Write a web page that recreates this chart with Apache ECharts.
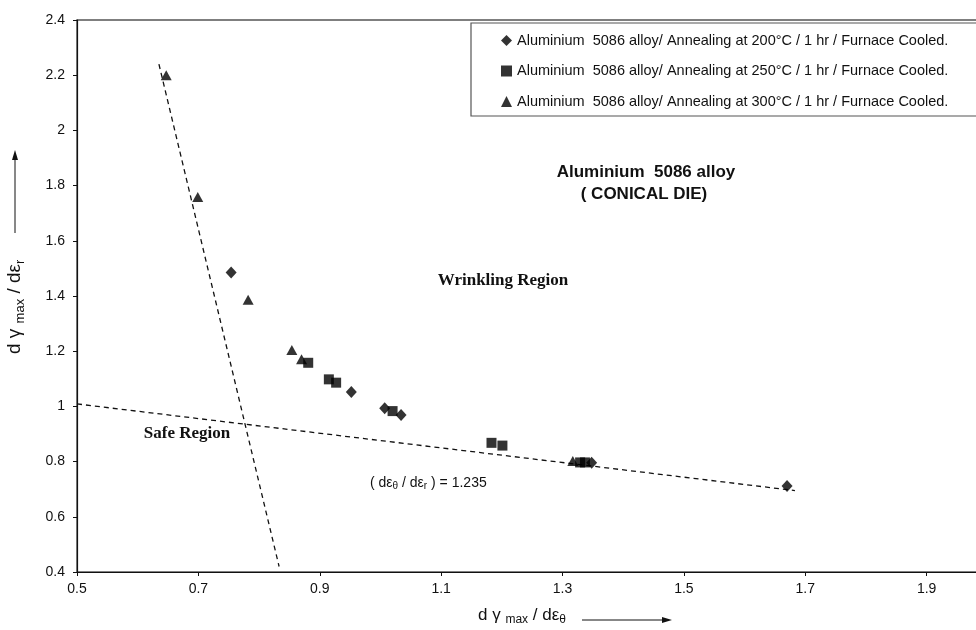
<!DOCTYPE html>
<html>
<head>
<meta charset="utf-8">
<script src="https://cdn.jsdelivr.net/npm/echarts@6/dist/echarts.min.js"></script>
<style>
  html, body { margin: 0; padding: 0; background: #fff; }
  #chart { width: 976px; height: 630px; }
</style>
</head>
<body>
<div id="chart"></div>
<script>
// series: [d gamma_max / d eps_theta, d gamma_max / d eps_r]
const names = [
  'Aluminium  5086 alloy/ Annealing at 200°C / 1 hr / Furnace Cooled.',
  'Aluminium  5086 alloy/ Annealing at 250°C / 1 hr / Furnace Cooled.',
  'Aluminium  5086 alloy/ Annealing at 300°C / 1 hr / Furnace Cooled.'
]
const anneal200 = [[0.754, 1.485], [0.952, 1.052], [1.007, 0.993], [1.034, 0.969], [1.348, 0.796], [1.670, 0.712]]
const anneal250 = [[0.881, 1.158], [0.915, 1.098], [0.927, 1.086], [1.020, 0.983], [1.183, 0.868], [1.201, 0.858], [1.329, 0.797], [1.337, 0.797]]
const anneal300 = [[0.647, 2.2], [0.699, 1.759], [0.782, 1.386], [0.854, 1.204], [0.870, 1.171], [1.317, 0.802]]

// boundary lines (dashed)
const steepLine = [[0.635, 2.24], [0.833, 0.42]]
const flatLine = [[0.5, 1.009], [1.683, 0.695]]

const xMin = 0.5, xMax = 2.1, xStep = 0.2
const yMin = 0.4, yMax = 2.4, yStep = 0.2

const chart = echarts.init(document.getElementById('chart'))

const sans = 'Liberation Sans, Arial, sans-serif'
const serif = 'Liberation Serif, Times New Roman, serif'

const scatter = (name, data, symbol, size) => ({
  name,
  type: 'scatter',
  data,
  symbol,
  symbolSize: size,
  itemStyle: { color: '#000' },
  z: 3
})

const dashed = (data) => ({
  type: 'line',
  data,
  symbol: 'none',
  silent: true,
  lineStyle: { color: '#111', width: 1.3, type: [5, 4] },
  z: 2
})

const option = {
  animation: false,
  backgroundColor: '#fff',
  grid: {
    left: 77,
    top: 20,
    width: 971,
    height: 552,
    outerBoundsMode: 'none',
    containLabel: false,
    show: true,
    borderColor: '#555',
    borderWidth: 1.5
  },
  xAxis: {
    type: 'value',
    min: xMin,
    max: xMax,
    interval: xStep,
    axisLine: { lineStyle: { color: '#111', width: 1.2 } },
    axisTick: { length: 4, lineStyle: { color: '#111' } },
    axisLabel: {
      color: '#111',
      fontFamily: sans,
      fontSize: 14,
      margin: 10,
      formatter: v => String(+v.toFixed(2))
    },
    splitLine: { show: false }
  },
  yAxis: {
    type: 'value',
    min: yMin,
    max: yMax,
    interval: yStep,
    axisLine: { show: true, lineStyle: { color: '#111', width: 1.2 } },
    axisTick: { show: true, length: 4, lineStyle: { color: '#111' } },
    axisLabel: {
      color: '#111',
      fontFamily: sans,
      fontSize: 14,
      margin: 12,
      formatter: v => String(+v.toFixed(2))
    },
    splitLine: { show: false }
  },
  legend: {
    data: names,
    orient: 'vertical',
    left: 496,
    top: 28,
    itemWidth: 11,
    itemHeight: 11,
    itemGap: 15.5,
    textStyle: { color: '#111', fontFamily: sans, fontSize: 14.5 },
    selectedMode: false
  },
  graphic: [
    {
      type: 'rect',
      shape: { x: 471, y: 23, width: 520, height: 93 },
      style: { fill: '#fff', stroke: '#555', lineWidth: 1.2 },
      z: 1
    },
    {
      type: 'text',
      x: 646, y: 172,
      style: { text: 'Aluminium  5086 alloy', font: 'bold 17px ' + sans, fill: '#111', align: 'center', verticalAlign: 'middle' }
    },
    {
      type: 'text',
      x: 644, y: 194,
      style: { text: '( CONICAL DIE)', font: 'bold 17px ' + sans, fill: '#111', align: 'center', verticalAlign: 'middle' }
    },
    {
      type: 'text',
      x: 503, y: 281,
      style: { text: 'Wrinkling Region', font: 'bold 17px ' + serif, fill: '#111', align: 'center', verticalAlign: 'middle' }
    },
    {
      type: 'text',
      x: 187, y: 434,
      style: { text: 'Safe Region', font: 'bold 17px ' + serif, fill: '#111', align: 'center', verticalAlign: 'middle' }
    },
    {
      type: 'text',
      x: 370, y: 483,
      style: {
        text: '( dε{sub|θ} / dε{sub|r} ) = 1.235',
        font: '14px ' + sans,
        fill: '#111',
        verticalAlign: 'middle',
        rich: { sub: { fontSize: 10, fontFamily: sans, padding: [7, 0, 0, 0] } }
      }
    },
    // x axis name with arrow
    {
      type: 'text',
      x: 478, y: 615,
      style: {
        text: 'd γ {sub|max} / dε{sub|θ}',
        font: '17px ' + sans,
        fill: '#111',
        verticalAlign: 'middle',
        rich: { sub: { fontSize: 12, fontFamily: sans, padding: [9, 0, 0, 0] } }
      }
    },
    { type: 'line', shape: { x1: 582, y1: 620, x2: 664, y2: 620 }, style: { stroke: '#111', lineWidth: 1 } },
    { type: 'polygon', shape: { points: [[672, 620], [662, 617], [662, 623]] }, style: { fill: '#111' } },
    // y axis name with arrow
    {
      type: 'text',
      x: 15, y: 354,
      rotation: Math.PI / 2,
      style: {
        text: 'd γ {sub|max} / dε{sub|r}',
        font: '19px ' + sans,
        fill: '#111',
        verticalAlign: 'middle',
        rich: { sub: { fontSize: 13, fontFamily: sans, padding: [10, 0, 0, 0] } }
      }
    },
    { type: 'line', shape: { x1: 15, y1: 233, x2: 15, y2: 158 }, style: { stroke: '#111', lineWidth: 1 } },
    { type: 'polygon', shape: { points: [[15, 150], [12, 160], [18, 160]] }, style: { fill: '#111' } }
  ],
  series: [
    scatter(names[0], anneal200, 'diamond', [11, 12]),
    scatter(names[1], anneal250, 'rect', 10),
    scatter(names[2], anneal300, 'triangle', [11, 10]),
    dashed(steepLine),
    dashed(flatLine)
  ]
}

chart.setOption(option)
window.addEventListener('resize', () => chart.resize())
</script>
</body>
</html>
